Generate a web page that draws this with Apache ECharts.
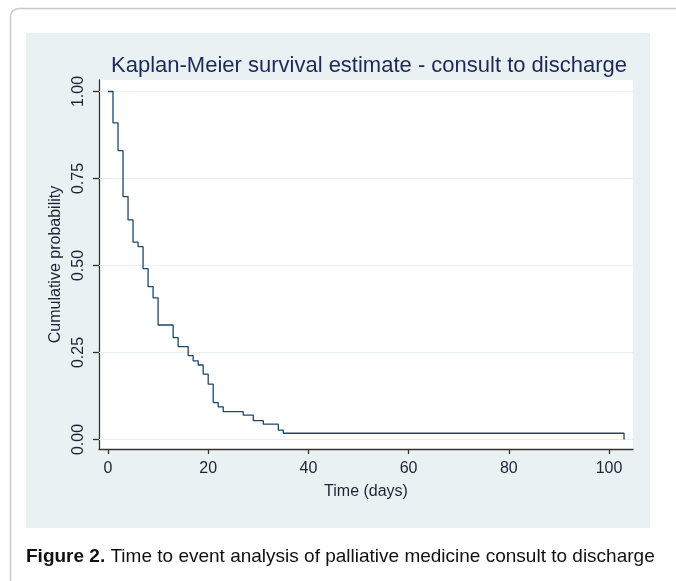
<!DOCTYPE html>
<html>
<head>
<meta charset="utf-8">
<script src="https://cdn.jsdelivr.net/npm/echarts@6/dist/echarts.min.js"></script>
<style>
html,body{margin:0;padding:0;background:#fff;}
#c{width:676px;height:581px;}
</style>
</head>
<body>
<div id="c"></div>
<script>
// Kaplan-Meier estimate
const times    = [0, 1, 2, 3, 4, 5, 6, 7, 8, 9, 10, 13, 14, 16, 17, 18, 19, 20, 21, 22, 23, 27, 29, 31, 34, 35, 103];
const survival = [1.000, 0.910, 0.830, 0.698, 0.631, 0.567, 0.554, 0.491, 0.439, 0.407, 0.329, 0.293, 0.267, 0.241, 0.226, 0.214, 0.188, 0.159, 0.106, 0.094, 0.080, 0.070, 0.054, 0.044, 0.027, 0.018, 0.000];
const xTicks = [0, 20, 40, 60, 80, 100];
const yTicks = [0, 0.25, 0.5, 0.75, 1];
const titleText = 'Kaplan-Meier survival estimate - consult to discharge';
const xName = 'Time (days)';
const yName = 'Cumulative probability';

const textColor = '#1b2335';
const chart = echarts.init(document.getElementById('c'), null, {renderer: 'canvas'});
chart.setOption({
  animation: false,
  backgroundColor: '#ffffff',
  title: {
    text: titleText,
    left: 364, top: 50, textAlign: 'center',
    textStyle: {fontFamily: 'Liberation Sans', fontWeight: 'normal', fontSize: 22, color: '#1c2a55'}
  },
  graphic: [
    {type: 'rect', z: -20, silent: true, shape: {x: 10.5, y: 8.5, width: 720, height: 640, r: 8},
     style: {fill: '#ffffff', stroke: '#c9c9c9', lineWidth: 1.5}},
    {type: 'rect', z: -10, silent: true, shape: {x: 26, y: 33, width: 624, height: 495},
     style: {fill: '#eaf1f3'}},
    {type: 'text', z: 10, left: 26, top: 547, silent: true,
     style: {text: '{b|Figure 2.} Time to event analysis of palliative medicine consult to discharge',
       rich: {b: {fontWeight: 'bold', fontSize: 19, fontFamily: 'Liberation Sans', fill: '#111'}},
       font: '19px "Liberation Sans"', fill: '#111'}}
  ],
  grid: {left: 99, right: 43, top: 80, bottom: 132, show: true, backgroundColor: '#ffffff', borderWidth: 0},
  xAxis: {
    type: 'value', min: -1.796, max: 104.79,
    name: xName, nameLocation: 'middle', nameGap: 35,
    nameTextStyle: {fontFamily: 'Liberation Sans', fontSize: 16, color: textColor},
    axisLine: {show: true, onZero: false, lineStyle: {color: '#333', width: 1.3}},
    axisTick: {show: true, length: 5, customValues: xTicks, lineStyle: {color: '#333', width: 1.3}},
    axisLabel: {customValues: xTicks, margin: 12, fontFamily: 'Liberation Sans', fontSize: 16, color: textColor},
    splitLine: {show: false}
  },
  yAxis: {
    type: 'value', min: -0.0273, max: 1.033,
    name: yName, nameLocation: 'middle', nameGap: 31, nameRotate: 90,
    nameTextStyle: {fontFamily: 'Liberation Sans', fontSize: 16, color: textColor},
    axisLine: {show: true, onZero: false, lineStyle: {color: '#333', width: 1.3}},
    axisTick: {show: true, length: 6, customValues: yTicks, lineStyle: {color: '#333', width: 1.3}},
    axisLabel: {customValues: yTicks, rotate: 90, margin: 12, fontFamily: 'Liberation Sans', fontSize: 16, color: textColor,
      formatter: v => v.toFixed(2)},
    splitLine: {show: false}
  },
  series: [{
    type: 'line', step: 'end', symbol: 'none',
    data: times.map((t, i) => [t, survival[i]]),
    lineStyle: {color: '#1a476f', width: 1.3},
    markLine: {
      silent: true, symbol: 'none', label: {show: false}, z: 1,
      lineStyle: {color: '#e6eff1', width: 1.2, type: 'solid'},
      data: yTicks.map(v => ({yAxis: v}))
    }
  }]
});
</script>
</body>
</html>
